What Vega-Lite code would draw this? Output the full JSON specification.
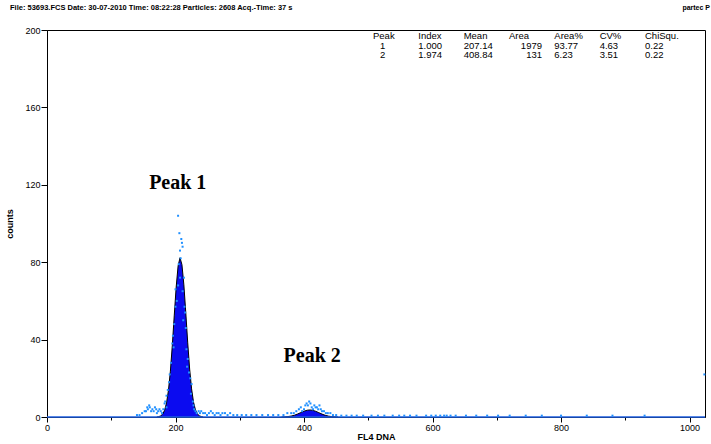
{
  "$schema": "https://vega.github.io/schema/vega-lite/v6.json",
  "width": 658,
  "height": 387,
  "autosize": {"type": "none"},
  "padding": {"left": 47, "top": 30, "right": 6, "bottom": 27},
  "background": "white",
  "config": {
    "view": {"stroke": "black", "strokeWidth": 1},
    "font": "Liberation Sans"
  },
  "datasets": {
    "fit": [
      {"peak": "1", "channel": 171, "count": 0},
      {"peak": "1", "channel": 174, "count": 0.2},
      {"peak": "1", "channel": 177, "count": 0.59},
      {"peak": "1", "channel": 180, "count": 1.5},
      {"peak": "1", "channel": 183, "count": 3.46},
      {"peak": "1", "channel": 186, "count": 7.24},
      {"peak": "1", "channel": 189, "count": 13.75},
      {"peak": "1", "channel": 192, "count": 23.67},
      {"peak": "1", "channel": 195, "count": 36.93},
      {"peak": "1", "channel": 198, "count": 52.25},
      {"peak": "1", "channel": 201, "count": 67.04},
      {"peak": "1", "channel": 204, "count": 78.0},
      {"peak": "1", "channel": 207, "count": 82.3},
      {"peak": "1", "channel": 210, "count": 78.72},
      {"peak": "1", "channel": 213, "count": 68.28},
      {"peak": "1", "channel": 216, "count": 53.71},
      {"peak": "1", "channel": 219, "count": 38.3},
      {"peak": "1", "channel": 222, "count": 24.77},
      {"peak": "1", "channel": 225, "count": 14.53},
      {"peak": "1", "channel": 228, "count": 7.73},
      {"peak": "1", "channel": 231, "count": 3.72},
      {"peak": "1", "channel": 234, "count": 1.63},
      {"peak": "1", "channel": 237, "count": 0.65},
      {"peak": "1", "channel": 240, "count": 0.23},
      {"peak": "1", "channel": 243, "count": 0},
      {"peak": "2", "channel": 365, "count": 0},
      {"peak": "2", "channel": 370, "count": 0.09},
      {"peak": "2", "channel": 375, "count": 0.23},
      {"peak": "2", "channel": 380, "count": 0.48},
      {"peak": "2", "channel": 385, "count": 0.92},
      {"peak": "2", "channel": 390, "count": 1.54},
      {"peak": "2", "channel": 395, "count": 2.29},
      {"peak": "2", "channel": 400, "count": 3.01},
      {"peak": "2", "channel": 405, "count": 3.51},
      {"peak": "2", "channel": 409, "count": 3.64},
      {"peak": "2", "channel": 413, "count": 3.49},
      {"peak": "2", "channel": 418, "count": 2.97},
      {"peak": "2", "channel": 423, "count": 2.24},
      {"peak": "2", "channel": 428, "count": 1.49},
      {"peak": "2", "channel": 433, "count": 0.88},
      {"peak": "2", "channel": 438, "count": 0.46},
      {"peak": "2", "channel": 443, "count": 0.21},
      {"peak": "2", "channel": 448, "count": 0.09},
      {"peak": "2", "channel": 453, "count": 0}
    ],
    "points": [
      {"channel": 204, "count": 104}, {"channel": 206, "count": 95}, {"channel": 209, "count": 92},
      {"channel": 210, "count": 90}, {"channel": 211, "count": 88}, {"channel": 207, "count": 86},
      {"channel": 208, "count": 82}, {"channel": 205, "count": 79}, {"channel": 213, "count": 72},
      {"channel": 207, "count": 72}, {"channel": 204, "count": 68}, {"channel": 200, "count": 66},
      {"channel": 211, "count": 65}, {"channel": 202, "count": 60}, {"channel": 200, "count": 57},
      {"channel": 214, "count": 57}, {"channel": 215, "count": 54}, {"channel": 212, "count": 50},
      {"channel": 198, "count": 48}, {"channel": 216, "count": 46}, {"channel": 196, "count": 42},
      {"channel": 195, "count": 38}, {"channel": 197, "count": 36}, {"channel": 217, "count": 35},
      {"channel": 219, "count": 30}, {"channel": 193, "count": 28}, {"channel": 218, "count": 26},
      {"channel": 191, "count": 22}, {"channel": 221, "count": 23}, {"channel": 223, "count": 20},
      {"channel": 190, "count": 18}, {"channel": 225, "count": 17}, {"channel": 188, "count": 14},
      {"channel": 224, "count": 12}, {"channel": 186, "count": 11}, {"channel": 184, "count": 8},
      {"channel": 183, "count": 7}, {"channel": 227, "count": 8}, {"channel": 228, "count": 6},
      {"channel": 229, "count": 4}, {"channel": 186, "count": 5}, {"channel": 181, "count": 4},
      {"channel": 231, "count": 3}, {"channel": 233, "count": 2}, {"channel": 236, "count": 3},
      {"channel": 140, "count": 1}, {"channel": 144, "count": 1}, {"channel": 148, "count": 2},
      {"channel": 152, "count": 3}, {"channel": 154, "count": 3}, {"channel": 156, "count": 5},
      {"channel": 157, "count": 4}, {"channel": 159, "count": 6}, {"channel": 160, "count": 5},
      {"channel": 162, "count": 3}, {"channel": 164, "count": 4}, {"channel": 166, "count": 3},
      {"channel": 168, "count": 5}, {"channel": 170, "count": 4}, {"channel": 171, "count": 2},
      {"channel": 173, "count": 3}, {"channel": 175, "count": 4}, {"channel": 177, "count": 3},
      {"channel": 179, "count": 2},
      {"channel": 238, "count": 2}, {"channel": 240, "count": 3}, {"channel": 243, "count": 2},
      {"channel": 246, "count": 2}, {"channel": 249, "count": 1}, {"channel": 252, "count": 2},
      {"channel": 255, "count": 3}, {"channel": 258, "count": 2}, {"channel": 261, "count": 1},
      {"channel": 264, "count": 2}, {"channel": 267, "count": 2}, {"channel": 270, "count": 1},
      {"channel": 273, "count": 2}, {"channel": 277, "count": 2}, {"channel": 281, "count": 1},
      {"channel": 285, "count": 2}, {"channel": 290, "count": 1}, {"channel": 296, "count": 1},
      {"channel": 303, "count": 1}, {"channel": 310, "count": 1}, {"channel": 318, "count": 1},
      {"channel": 326, "count": 1}, {"channel": 335, "count": 1}, {"channel": 344, "count": 1},
      {"channel": 352, "count": 1}, {"channel": 360, "count": 1}, {"channel": 368, "count": 1},
      {"channel": 374, "count": 2},
      {"channel": 380, "count": 2}, {"channel": 384, "count": 2}, {"channel": 388, "count": 3},
      {"channel": 392, "count": 4}, {"channel": 395, "count": 5}, {"channel": 397, "count": 3},
      {"channel": 400, "count": 4}, {"channel": 402, "count": 6}, {"channel": 404, "count": 7},
      {"channel": 406, "count": 6}, {"channel": 408, "count": 8}, {"channel": 410, "count": 7},
      {"channel": 412, "count": 5}, {"channel": 414, "count": 4}, {"channel": 416, "count": 6},
      {"channel": 418, "count": 5}, {"channel": 420, "count": 5}, {"channel": 422, "count": 4},
      {"channel": 424, "count": 6}, {"channel": 426, "count": 4}, {"channel": 428, "count": 3},
      {"channel": 431, "count": 3}, {"channel": 434, "count": 2}, {"channel": 437, "count": 2},
      {"channel": 441, "count": 2}, {"channel": 445, "count": 1}, {"channel": 450, "count": 1},
      {"channel": 458, "count": 0.7}, {"channel": 466, "count": 0.7}, {"channel": 474, "count": 0.7},
      {"channel": 482, "count": 0.7}, {"channel": 492, "count": 0.7}, {"channel": 505, "count": 0.7},
      {"channel": 515, "count": 0.7}, {"channel": 525, "count": 0.7}, {"channel": 538, "count": 0.7},
      {"channel": 548, "count": 0.7}, {"channel": 556, "count": 0.7}, {"channel": 565, "count": 0.7},
      {"channel": 575, "count": 0.7}, {"channel": 590, "count": 0.7}, {"channel": 598, "count": 0.7},
      {"channel": 605, "count": 0.7}, {"channel": 612, "count": 0.7}, {"channel": 618, "count": 0.7},
      {"channel": 622, "count": 0.7}, {"channel": 628, "count": 0.7}, {"channel": 636, "count": 0.7},
      {"channel": 652, "count": 0.7}, {"channel": 668, "count": 0.7}, {"channel": 685, "count": 0.7},
      {"channel": 702, "count": 0.7}, {"channel": 720, "count": 0.7}, {"channel": 745, "count": 0.7},
      {"channel": 770, "count": 0.7}, {"channel": 800, "count": 0.7}, {"channel": 840, "count": 0.7},
      {"channel": 880, "count": 0.7}, {"channel": 930, "count": 0.7},
      {"channel": 1023, "count": 22}
    ],
    "labels": [
      {"label": "Peak 1", "channel": 203.5, "count": 121},
      {"label": "Peak 2", "channel": 412.7, "count": 31.6}
    ],
    "table": [
      {"row": "header", "col": "Peak", "text": "Peak"},
      {"row": "header", "col": "Index", "text": "Index"},
      {"row": "header", "col": "Mean", "text": "Mean"},
      {"row": "header", "col": "Area", "text": "Area"},
      {"row": "header", "col": "Area%", "text": "Area%"},
      {"row": "header", "col": "CV%", "text": "CV%"},
      {"row": "header", "col": "ChiSqu.", "text": "ChiSqu."},
      {"row": "1", "col": "Peak", "text": "1"},
      {"row": "1", "col": "Index", "text": "1.000"},
      {"row": "1", "col": "Mean", "text": "207.14"},
      {"row": "1", "col": "Area", "text": "1979"},
      {"row": "1", "col": "Area%", "text": "93.77"},
      {"row": "1", "col": "CV%", "text": "4.63"},
      {"row": "1", "col": "ChiSqu.", "text": "0.22"},
      {"row": "2", "col": "Peak", "text": "2"},
      {"row": "2", "col": "Index", "text": "1.974"},
      {"row": "2", "col": "Mean", "text": "408.84"},
      {"row": "2", "col": "Area", "text": "131"},
      {"row": "2", "col": "Area%", "text": "6.23"},
      {"row": "2", "col": "CV%", "text": "3.51"},
      {"row": "2", "col": "ChiSqu.", "text": "0.22"}
    ]
  },
  "layer": [
    {
      "layer": [
        {
          "data": {"name": "fit"},
          "mark": {"type": "area", "color": "#0b0bf0", "opacity": 1},
          "encoding": {
            "x": {
              "field": "channel", "type": "quantitative",
              "scale": {"domain": [0, 1024], "nice": false, "zero": false},
              "axis": {
                "title": "FL4  DNA", "titleFontWeight": "bold", "titleFontSize": 9, "titleColor": "black", "titlePadding": 0,
                "values": [0, 100, 200, 300, 400, 500, 600, 700, 800, 900, 1000],
                "labelExpr": "datum.value % 200 === 0 ? datum.label : ''",
                "format": "d",
                "tickSize": {"condition": {"test": "datum.value % 200 === 0", "value": 5}, "value": 3},
                "tickColor": "black", "domainColor": "black", "labelColor": "black",
                "labelFontSize": 9, "labelPadding": 1, "grid": false,
                "labelFlush": false, "labelOverlap": false
              }
            },
            "y": {
              "field": "count", "type": "quantitative", "stack": null,
              "scale": {"domain": [0, 200], "nice": false},
              "axis": {
                "title": "counts", "titleFontWeight": "bold", "titleFontSize": 9, "titleColor": "black", "titlePadding": 10,
                "values": [0, 20, 40, 60, 80, 100, 120, 140, 160, 180, 200],
                "labelExpr": "datum.value % 40 === 0 ? datum.label : ''",
                "tickSize": {"condition": {"test": "datum.value % 40 === 0", "value": 6}, "value": 3},
                "tickColor": "black", "domainColor": "black", "labelColor": "black",
                "labelFontSize": 9, "labelPadding": 1, "grid": false,
                "labelFlush": false, "labelOverlap": false
              }
            },
            "detail": {"field": "peak"}
          }
        },
        {
          "data": {"name": "fit"},
          "mark": {"type": "line", "color": "black", "strokeWidth": 1},
          "encoding": {
            "x": {"field": "channel", "type": "quantitative"},
            "y": {"field": "count", "type": "quantitative"},
            "detail": {"field": "peak"}
          }
        },
        {
          "data": {"values": [{}]},
          "mark": {"type": "rule", "color": "#1f5fe0", "strokeWidth": 1.6},
          "encoding": {"y": {"datum": 0}}
        },
        {
          "data": {"name": "points"},
          "mark": {"type": "square", "color": "#2090ff", "size": 4, "opacity": 1},
          "encoding": {
            "x": {"field": "channel", "type": "quantitative"},
            "y": {"field": "count", "type": "quantitative"}
          }
        },
        {
          "data": {"name": "labels"},
          "mark": {"type": "text", "font": "Liberation Serif", "fontWeight": "bold", "fontSize": 20, "color": "black", "align": "center", "baseline": "middle"},
          "encoding": {
            "x": {"field": "channel", "type": "quantitative"},
            "y": {"field": "count", "type": "quantitative"},
            "text": {"field": "label"}
          }
        },
        {
          "data": {"values": [{"text": "File: 53693.FCS  Date: 30-07-2010  Time: 08:22:28  Particles: 2608  Acq.-Time: 37 s"}]},
          "mark": {"type": "text", "font": "Liberation Sans", "fontWeight": "bold", "fontSize": 7.5, "color": "black", "align": "left", "baseline": "middle", "dx": -37, "dy": -22},
          "encoding": {
            "x": {"datum": 0},
            "y": {"datum": 200},
            "text": {"field": "text"}
          }
        },
        {
          "data": {"values": [{"text": "partec P"}]},
          "mark": {"type": "text", "font": "Liberation Sans", "fontWeight": "bold", "fontSize": 7, "color": "black", "align": "right", "baseline": "middle", "dx": 5, "dy": -22},
          "encoding": {
            "x": {"datum": 1024},
            "y": {"datum": 200},
            "text": {"field": "text"}
          }
        }
      ]
    },
    {
      "data": {"name": "table"},
      "layer": [
        {
          "transform": [{"filter": "datum.row === 'header'"}],
          "mark": {"type": "text", "fontSize": 9.5, "color": "black", "align": "left", "baseline": "middle"},
          "encoding": {
            "x": {"field": "col", "type": "nominal", "axis": null,
                  "scale": {"type": "point", "domain": ["Peak", "Index", "Mean", "Area", "Area%", "CV%", "ChiSqu."], "range": [326, 598], "padding": 0}},
            "y": {"field": "row", "type": "nominal", "axis": null,
                  "scale": {"type": "point", "domain": ["header", "1", "2"], "range": [6, 25], "padding": 0}},
            "text": {"field": "text"}
          }
        },
        {
          "transform": [{"filter": "datum.row !== 'header' && datum.col !== 'Peak' && datum.col !== 'Area'"}],
          "mark": {"type": "text", "fontSize": 9.5, "color": "black", "align": "left", "baseline": "middle"},
          "encoding": {
            "x": {"field": "col", "type": "nominal", "axis": null},
            "y": {"field": "row", "type": "nominal", "axis": null},
            "text": {"field": "text"}
          }
        },
        {
          "transform": [{"filter": "datum.row !== 'header' && datum.col === 'Peak'"}],
          "mark": {"type": "text", "fontSize": 9.5, "color": "black", "align": "left", "baseline": "middle", "dx": 7},
          "encoding": {
            "x": {"field": "col", "type": "nominal", "axis": null},
            "y": {"field": "row", "type": "nominal", "axis": null},
            "text": {"field": "text"}
          }
        },
        {
          "transform": [{"filter": "datum.row !== 'header' && datum.col === 'Area'"}],
          "mark": {"type": "text", "fontSize": 9.5, "color": "black", "align": "right", "baseline": "middle", "dx": 33},
          "encoding": {
            "x": {"field": "col", "type": "nominal", "axis": null},
            "y": {"field": "row", "type": "nominal", "axis": null},
            "text": {"field": "text"}
          }
        }
      ]
    }
  ],
  "resolve": {"scale": {"x": "independent", "y": "independent"}}
}
